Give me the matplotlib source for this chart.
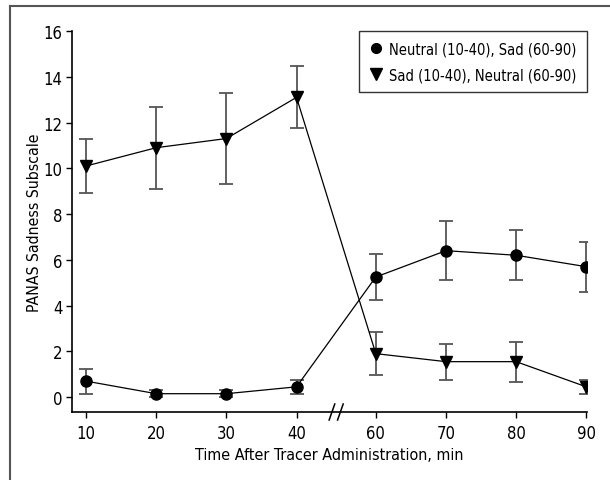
import numpy as np
import matplotlib
matplotlib.use("Agg")
import matplotlib.pyplot as plt
from matplotlib.lines import Line2D
from matplotlib import font_manager

# look for a narrow / condensed sans to mimic the condensed Helvetica
narrow = None
for f in font_manager.fontManager.ttflist:
    fn = f.fname.lower()
    if ("narrow" in fn or "condensed" in fn) and f.style == "normal" and f.weight in (400, "normal", "regular"):
        if "mono" in fn or "serif" in fn and "sans" not in fn:
            continue
        narrow = f
        break
if narrow is not None:
    plt.rcParams['font.family'] = [narrow.name, 'DejaVu Sans']
    plt.rcParams['font.stretch'] = narrow.stretch
    scale = 1.0
else:
    plt.rcParams['font.family'] = ['Liberation Sans', 'DejaVu Sans']
    scale = 0.88

# data
times = [10, 20, 30, 40, 60, 70, 80, 90]
tick_labels = [str(t) for t in times]
neutral_sad = [0.7, 0.15, 0.15, 0.45, 5.25, 6.4, 6.2, 5.7]
neutral_sad_err = [0.55, 0.15, 0.15, 0.3, 1.0, 1.3, 1.1, 1.1]
sad_neutral = [10.1, 10.9, 11.3, 13.1, 1.9, 1.55, 1.55, 0.45]
sad_neutral_err = [1.2, 1.8, 2.0, 1.35, 0.95, 0.78, 0.88, 0.3]
labels = ["Neutral (10-40), Sad (60-90)", "Sad (10-40), Neutral (60-90)"]

# axis positions: evenly spaced with a wider gap at the break (40 -> 60)
gap = 1.13
xpos = np.array([0, 1, 2, 3, 3 + gap, 4 + gap, 5 + gap, 6 + gap])

fig = plt.figure(figsize=(6.1, 4.81), dpi=100)
ax = fig.add_axes([72 / 610, 1 - 413 / 481, (587 - 72) / 610, (413 - 32) / 481])

err_kw = dict(ecolor="#555555", elinewidth=1.3, capsize=5, capthick=1.3)
ax.errorbar(xpos, neutral_sad, yerr=neutral_sad_err, fmt="none", **err_kw)
ax.errorbar(xpos, sad_neutral, yerr=sad_neutral_err, fmt="none", **err_kw)
ax.plot(xpos, neutral_sad, color="black", lw=0.9, marker="o", ms=8, zorder=3)
ax.plot(xpos, sad_neutral, color="black", lw=0.9, marker="v", ms=9, zorder=3)

ax.set_xlim(-0.2, xpos[-1] + 0.01)
ax.set_ylim(-0.65, 16)
ax.set_xticks(xpos)
ax.set_xticklabels(tick_labels)
ax.set_yticks(range(0, 17, 2))
ax.tick_params(labelsize=12 * scale, length=4, width=1, direction="out", pad=3)
ax.tick_params(axis="x", pad=5)
for s in ["top", "right"]:
    ax.spines[s].set_visible(False)
for s in ["left", "bottom"]:
    ax.spines[s].set_linewidth(1.2)

ax.set_xlabel("Time After Tracer Administration, min", fontsize=11.5 * scale, labelpad=3)
ax.set_ylabel("PANAS Sadness Subscale", fontsize=11.3 * scale)
ax.yaxis.set_label_coords(-0.058, 0.5)

# axis break marks
bx = (xpos[3] + xpos[4]) / 2
for dx in (-0.06, 0.06):
    ax.plot([bx + dx - 0.04, bx + dx + 0.04], [-1.0, -0.3], color="black",
            lw=1.1, clip_on=False)

handles = [Line2D([], [], color="black", marker="o", ls="none", ms=7),
           Line2D([], [], color="black", marker="v", ls="none", ms=8)]
leg = ax.legend(handles, labels, loc="upper right", fontsize=10.5 * scale, frameon=True,
                fancybox=False, edgecolor="black", handletextpad=0.4,
                handlelength=1.0, borderpad=0.7, labelspacing=0.75,
                borderaxespad=0, bbox_to_anchor=(1.0, 1.0))
leg.get_frame().set_linewidth(1.0)

# outer frame (left and top edges only)
fc = "#555555"
fig.add_artist(Line2D([10 / 610, 10 / 610], [0, 1 - 7 / 481], color=fc, lw=1.5))
fig.add_artist(Line2D([10 / 610, 1.0], [1 - 7 / 481, 1 - 7 / 481], color=fc, lw=1.5))

fig.savefig("out.png", dpi=100)
